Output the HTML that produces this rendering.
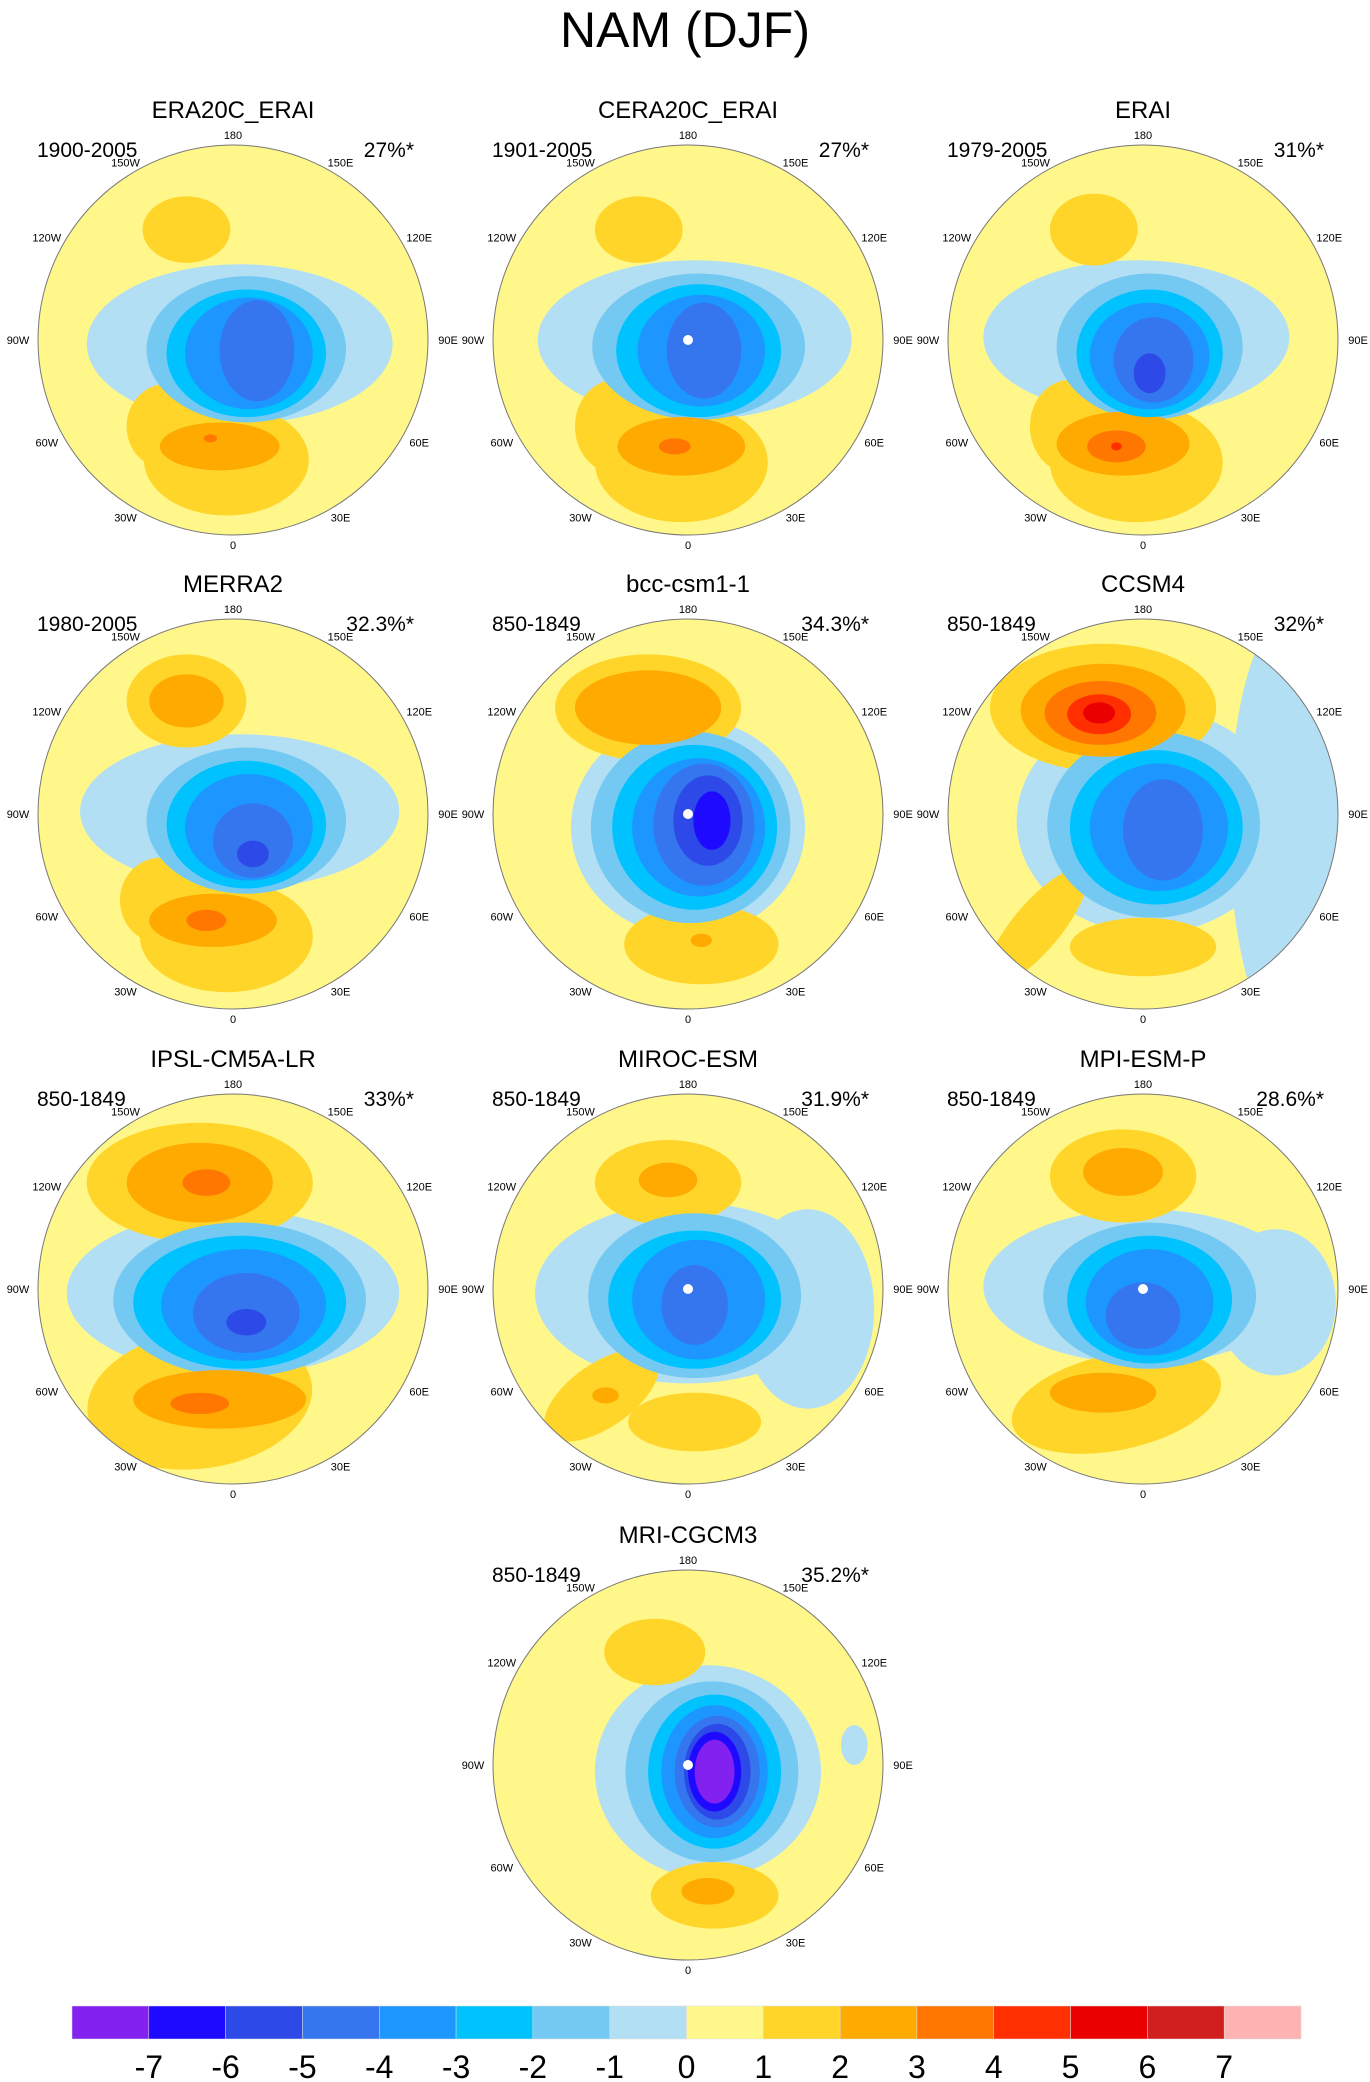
<!DOCTYPE html>
<html><head><meta charset="utf-8"><title>NAM (DJF)</title>
<style>html,body{margin:0;padding:0;background:#fff;}svg{display:block;font-family:"Liberation Sans",sans-serif;}</style>
</head><body>
<svg id="chart" width="1370" height="2082" viewBox="0 0 1370 2082" xmlns="http://www.w3.org/2000/svg">
<text x="685" y="47" text-anchor="middle" font-size="50">NAM (DJF)</text>
<g id="panels"></g>
<g id="colorbar"></g>
</svg>
<script>
const NS='http://www.w3.org/2000/svg';
// ---- data ----
const panelNames=['ERA20C_ERAI','CERA20C_ERAI','ERAI','MERRA2','bcc-csm1-1','CCSM4','IPSL-CM5A-LR','MIROC-ESM','MPI-ESM-P','MRI-CGCM3'];
const panelPeriods=['1900-2005','1901-2005','1979-2005','1980-2005','850-1849','850-1849','850-1849','850-1849','850-1849','850-1849'];
const panelPercents=['27%*','27%*','31%*','32.3%*','34.3%*','32%*','33%*','31.9%*','28.6%*','35.2%*'];
const panelPoleDot=[0,1,0,0,1,0,0,1,1,1];
// contour regions per panel: [dx, dy, rx, ry, rotation, level] (map units relative to pole)
const panelFields=[
 [[-35,-83,33,25,0,1],[5,3,115,60,0,-1],[10,7,75,55,0,-2],[10,10,60,48,0,-3],[12,10,48,42,0,-4],[18,8,28,38,0,-5],[-5,90,62,42,0,1],[-50,65,30,32,0,1],[-10,80,45,18,0,2],[-17,74,5,3,0,3]],
 [[-37,-83,33,25,0,1],[5,0,118,60,0,-1],[8,5,80,55,0,-2],[8,8,62,50,0,-3],[10,8,48,42,0,-4],[12,8,28,36,0,-5],[-5,92,65,45,0,1],[-55,65,30,35,0,1],[-5,80,48,22,0,2],[-10,80,12,6,0,3]],
 [[-37,-83,33,27,0,1],[-5,-2,115,58,0,-1],[5,5,70,55,0,-2],[5,10,55,48,0,-3],[5,12,45,40,0,-4],[8,15,30,32,0,-5],[5,25,12,15,0,-6],[-5,92,65,45,0,1],[-55,65,30,35,0,1],[-15,78,50,24,0,2],[-20,80,22,12,0,3],[-20,80,4,3,0,4]],
 [[-35,-85,45,35,0,1],[-35,-85,28,20,0,2],[5,-2,120,58,0,-1],[10,5,75,55,0,-2],[10,8,60,48,0,-3],[12,10,48,40,0,-4],[15,20,30,28,0,-5],[15,30,12,10,0,-6],[-5,92,65,42,0,1],[-55,65,30,32,0,1],[-15,80,48,20,0,2],[-20,80,15,8,0,3]],
 [[-30,-80,70,40,0,1],[-30,-80,55,28,0,2],[0,10,88,82,0,-1],[2,10,75,72,0,-2],[5,10,62,62,0,-3],[8,10,50,52,0,-4],[12,8,38,46,0,-5],[15,5,26,34,0,-6],[18,5,14,22,0,-7],[10,98,58,30,0,1],[10,95,8,5,0,2]],
 [[110,10,45,160,0,-1],[-30,-80,85,48,0,1],[-30,-78,62,35,0,2],[-32,-76,42,24,0,3],[-33,-75,24,15,0,4],[-33,-76,12,8,0,5],[5,5,100,85,0,-1],[8,8,80,70,0,-2],[10,10,65,58,0,-3],[12,10,52,48,0,-4],[15,12,30,38,0,-5],[-80,85,55,18,-50,1],[0,100,55,22,0,1]],
 [[-25,-80,85,45,0,1],[-25,-80,55,30,0,2],[-20,-80,18,10,0,3],[0,3,125,62,0,-1],[5,8,95,58,0,-2],[5,10,80,50,0,-3],[8,12,62,42,0,-4],[10,18,40,30,0,-5],[10,25,15,10,0,-6],[-25,83,85,52,-8,1],[-10,83,65,22,0,2],[-25,86,22,8,0,3]],
 [[-15,-80,55,32,0,1],[-15,-82,22,13,0,2],[0,3,115,68,0,-1],[90,15,50,75,0,-1],[5,5,80,62,0,-2],[5,8,65,52,0,-3],[8,8,50,45,0,-4],[5,12,25,30,0,-5],[-65,80,50,24,-35,1],[5,100,50,22,0,1],[-62,80,10,6,0,2]],
 [[-15,-85,55,35,0,1],[-15,-88,30,18,0,2],[0,-2,120,58,0,-1],[100,10,45,55,0,-1],[5,5,80,55,0,-2],[5,8,62,48,0,-3],[5,10,48,40,0,-4],[0,20,28,25,0,-5],[-20,85,80,36,-12,1],[-30,78,40,15,0,2]],
 [[-25,-85,38,25,0,1],[125,-15,10,15,0,-1],[15,5,85,80,0,-1],[18,5,65,68,0,-2],[20,5,50,58,0,-3],[20,5,40,50,0,-4],[22,5,32,42,0,-5],[22,5,25,36,0,-6],[20,5,20,30,0,-7],[20,5,15,24,0,-8],[20,98,48,25,0,1],[15,95,20,10,0,2]]
];
const lonLabels=['180','150W','120W','90W','60W','30W','0','30E','60E','90E','120E','150E'];
const lonValues=[180,-150,-120,-90,-60,-30,0,30,60,90,120,150];
const cbLabels=['-7','-6','-5','-4','-3','-2','-1','0','1','2','3','4','5','6','7'];
const cbColors=['#8221f0','#1e0aff','#2d4ae8','#3575ee','#1d96ff','#00c2ff','#74c9f2','#b3dff4','#fff78a','#ffd52a','#ffaa00','#ff7700','#ff2f00','#ea0000','#d11e1e','#ffb2b2'];
// ---- layout ----
const colX=[233,688,1143], rowY=[340,814,1289,1765], R=195, S=1.33;
function levelColor(l){return cbColors[Math.max(0,Math.min(15,8+l))];}
function order(l){return Math.abs(l)*2+(l>0?1:0);}
const panels=document.getElementById('panels');
function mk(tag,attrs,parent){const e=document.createElementNS(NS,tag);for(const k in attrs)e.setAttribute(k,attrs[k]);parent.appendChild(e);return e;}
panelNames.forEach((name,i)=>{
  const cx=i<9?colX[i%3]:colX[1], cy=i<9?rowY[Math.floor(i/3)]:rowY[3];
  const g=mk('g',{},panels);
  
  
  const cp=mk('clipPath',{id:'clip'+i},g);
  mk('circle',{cx:cx,cy:cy,r:R},cp);
  const t=mk('text',{x:cx,y:cy-222,'text-anchor':'middle','font-size':24},g);t.textContent=name;
  
  
  const p=mk('text',{x:cx-196,y:cy-183,'font-size':21},g);p.textContent=panelPeriods[i];
  
  
  const q=mk('text',{x:cx+181,y:cy-183,'text-anchor':'end','font-size':21},g);q.textContent=panelPercents[i];
  
  
  const mg=mk('g',{'clip-path':'url(#clip'+i+')'},g);
  const bg=mk('circle',{cx:cx,cy:cy,r:R,fill:cbColors[8]},mg);
  
  
  const f=panelFields[i].slice().sort((a,b)=>order(a[5])-order(b[5]));
  f.forEach(e=>{
    const el=mk('ellipse',{cx:cx+e[0]*S,cy:cy+e[1]*S,rx:e[2]*S,ry:e[3]*S,fill:levelColor(e[5]),transform:'rotate('+e[4]+' '+(cx+e[0]*S)+' '+(cy+e[1]*S)+')'},mg);
    
    
  });
  if(panelPoleDot[i]){const d=mk('circle',{cx:cx,cy:cy,r:5,fill:'#fff'},mg);
    
    }
  const o=mk('circle',{cx:cx,cy:cy,r:R,fill:'none',stroke:'#777','stroke-width':1},g);
  
  
  lonValues.forEach((lv,k)=>{
    const a=lv*Math.PI/180;
    const l=mk('text',{x:cx+Math.sin(a)*(R+20),y:cy+Math.cos(a)*(R+10)+4,'text-anchor':'middle','font-size':11},g);
    l.textContent=lonLabels[k];
    
    
  });
});
const cb=document.getElementById('colorbar');
const x0=72,x1=1301,bw=(x1-x0)/cbColors.length;
cbColors.forEach((c,k)=>{
  const r=mk('rect',{x:x0+k*bw,y:2006,width:bw,height:33,fill:c,stroke:'#ddd','stroke-width':0.5},cb);
  
  
});
cbLabels.forEach((t,k)=>{
  const l=mk('text',{x:x0+(k+1)*bw,y:2078,'text-anchor':'middle','font-size':32},cb);
  l.textContent=t;
  
  
});
</script>
</body></html>
